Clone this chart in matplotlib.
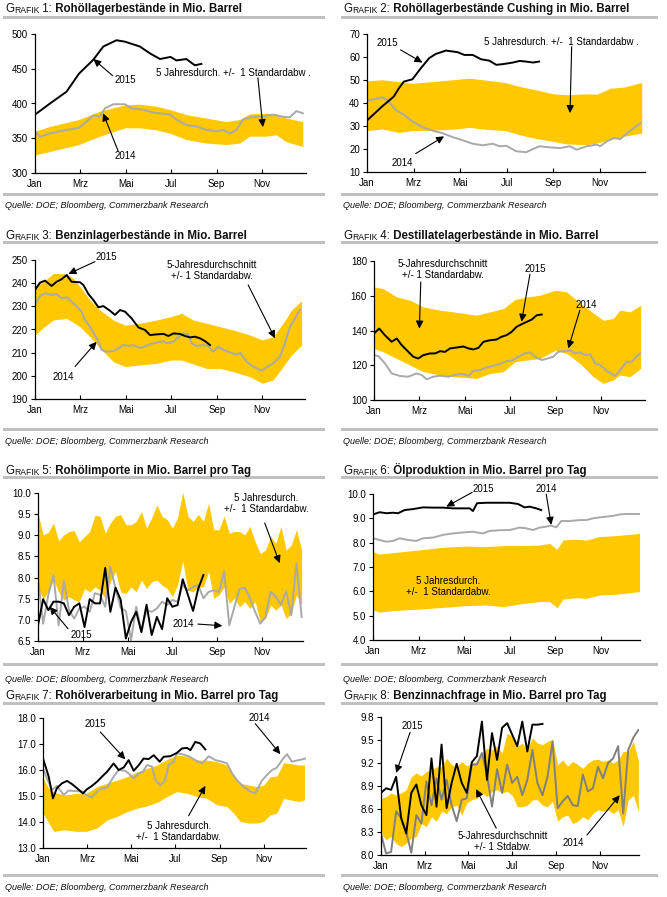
import numpy as np
import matplotlib
matplotlib.use('Agg')
import matplotlib.pyplot as plt
from matplotlib.patches import Rectangle

plt.rcParams['font.family'] = ['Liberation Sans', 'DejaVu Sans']

# ---------------- data ----------------
month_labels = ['Jan', 'Mrz', 'Mai', 'Jul', 'Sep', 'Nov']

# Grafik 1: Rohöllagerbestände
p1_2015_m = [0, 0.66, 1.39, 1.94, 2.57, 3.01, 3.59, 3.96, 4.62, 5.07, 5.51, 5.97, 6.23, 6.67, 7.04, 7.33]
p1_2015_v = [384, 400, 417, 443, 463, 482, 491, 489, 482, 472, 464, 467, 462, 464, 455, 457]
p1_2014_m = [0, 0.22, 0.66, 1.39, 1.94, 2.27, 2.57, 2.86, 3.08, 3.45, 3.96, 4.25, 4.77, 5.21, 5.97, 6.23,
             6.67, 7.11, 7.55, 7.99, 8.28, 8.58, 8.87, 9.16, 9.6, 9.99, 10.48, 10.92, 11.22, 11.51, 11.8]
p1_2014_v = [360, 352, 357, 362, 365, 374, 383, 381, 393, 399, 399, 393, 391, 387, 384, 377,
             369, 367, 362, 360, 362, 357, 362, 377, 381, 381, 384, 381, 380, 389, 386]
p1_band_m = [0, 0.66, 1.94, 2.86, 3.96, 4.62, 5.35, 5.97, 6.67, 7.55, 8.43, 9.02, 9.46, 10.19, 10.63, 11.07, 11.8]
p1_band_up = [360, 367, 377, 389, 398, 399, 396, 391, 384, 379, 374, 377, 385, 386, 385, 379, 374]
p1_band_lo = [326, 331, 341, 353, 365, 365, 362, 357, 348, 343, 341, 343, 353, 353, 355, 345, 338]

# Grafik 2: Cushing
p2_2015_m = [0, 0.65, 1.15, 1.37, 1.58, 1.95, 2.31, 2.67, 2.95, 3.39, 3.89, 4.18, 4.54, 4.9, 5.26, 5.55,
             5.84, 6.27, 6.56, 6.84, 7.13, 7.39]
p2_2015_v = [32.4, 38.5, 42.8, 46.4, 49.3, 50.3, 55.1, 59.5, 61.3, 62.8, 62.1, 60.9, 60.9, 59.0, 58.4, 56.6,
             56.9, 57.6, 58.3, 58.0, 57.6, 58.0]
p2_2014_m = [0, 0.36, 0.65, 0.86, 1.22, 1.58, 1.95, 2.38, 2.81, 3.24, 3.67, 4.11, 4.54, 4.97, 5.4, 5.69,
             5.98, 6.41, 6.84, 7.13, 7.42, 7.85, 8.29, 8.72, 9.0, 9.44, 9.87, 10.01, 10.3, 10.59, 10.88,
             11.17, 11.46, 11.74]
p2_2014_v = [41.1, 41.7, 42.5, 41.4, 37.1, 34.9, 32.0, 29.5, 28.0, 26.9, 25.2, 23.8, 22.3, 21.6, 22.3, 21.2,
             21.4, 19.0, 18.6, 20.0, 21.2, 20.7, 20.4, 21.2, 19.7, 21.2, 21.9, 21.2, 23.3, 24.8, 24.3,
             26.9, 29.1, 31.3]
p2_band_m = [0, 0.65, 1.37, 1.95, 2.81, 3.89, 4.39, 4.97, 5.94, 6.56, 7.13, 8.0, 8.57, 9.44, 9.87, 10.45, 11.02, 11.8]
p2_band_up = [49.6, 50.1, 49.3, 48.6, 49.3, 50.3, 50.8, 50.1, 48.9, 47.2, 46.0, 44.0, 43.6, 44.0, 43.8, 46.4, 46.9, 48.9]
p2_band_lo = [28.0, 28.7, 27.2, 28.0, 28.1, 28.8, 29.4, 28.7, 28.0, 26.2, 24.8, 23.3, 22.2, 21.9, 22.6, 24.0, 25.5, 26.9]

# Grafik 3: Benzinlagerbestände
p3_2015_m = [0, 0.22, 0.44, 0.73, 0.95, 1.17, 1.39, 1.61, 1.98, 2.13, 2.35, 2.57, 2.79, 3.01, 3.3, 3.52,
             3.74, 3.96, 4.25, 4.55, 4.84, 5.06, 5.35, 5.65, 5.87, 6.09, 6.38, 6.6, 6.82, 7.04, 7.26, 7.48, 7.7]
p3_2015_v = [237.1, 240.2, 241.1, 238.8, 240.6, 241.7, 243.5, 240.6, 240.4, 239.2, 235.3, 232.7, 229.6, 230.1,
             228.1, 226.3, 228.4, 227.7, 224.8, 220.9, 219.8, 217.6, 217.9, 218.1, 217.2, 218.3, 218.1, 217.2,
             216.6, 216.9, 216.2, 215.0, 213.3]
p3_2014_m = [0, 0.22, 0.44, 0.73, 0.95, 1.17, 1.39, 1.61, 1.83, 2.05, 2.2, 2.42, 2.64, 2.79, 2.93, 3.15,
             3.45, 3.67, 3.89, 4.11, 4.33, 4.55, 4.77, 5.06, 5.35, 5.65, 5.79, 6.09, 6.3, 6.52, 6.74, 6.89,
             7.11, 7.4, 7.62, 7.84, 8.06, 8.28, 8.58, 8.87, 9.02, 9.31, 9.6, 9.97, 10.19, 10.48, 10.78, 11.0,
             11.22, 11.44, 11.66]
p3_2014_v = [230.6, 234.5, 235.6, 234.9, 235.3, 233.5, 233.9, 232.0, 230.1, 227.7, 224.1, 221.2, 217.6, 214.7,
             211.2, 210.4, 210.7, 211.9, 213.3, 212.9, 213.3, 212.2, 212.3, 213.7, 214.3, 215.0, 214.0, 214.7,
             216.6, 218.3, 218.1, 214.0, 212.9, 213.3, 212.9, 210.4, 212.6, 211.2, 210.1, 209.0, 210.0, 206.1,
             204.0, 202.2, 203.7, 205.4, 208.3, 214.0, 221.2, 224.8, 228.7]
p3_band_m = [0, 0.37, 0.81, 1.39, 1.69, 1.98, 2.42, 2.86, 3.45, 3.96, 4.62, 5.35, 5.97, 6.45, 6.96, 7.55,
             8.14, 8.72, 9.46, 10.0, 10.48, 10.92, 11.29, 11.73]
p3_band_up = [238.5, 240.6, 244.2, 244.0, 242.1, 238.5, 232.7, 228.4, 224.1, 221.9, 222.7, 224.1, 225.5, 227.0,
              224.1, 222.7, 221.2, 219.8, 217.6, 215.5, 216.9, 222.7, 228.4, 232.4]
p3_band_lo = [217.6, 220.9, 224.1, 224.8, 223.0, 221.2, 216.9, 212.0, 206.1, 204.0, 204.7, 205.4, 206.8, 206.8,
              205.1, 203.2, 203.2, 201.8, 199.6, 196.8, 198.2, 204.0, 209.0, 213.3]

# Grafik 4: Destillatelagerbestände
p4_2015_m = [0, 0.23, 0.48, 0.78, 1.0, 1.22, 1.51, 1.73, 1.95, 2.17, 2.47, 2.69, 2.91, 3.13, 3.35, 3.64,
             3.94, 4.16, 4.38, 4.6, 4.82, 5.11, 5.4, 5.62, 5.84, 6.06, 6.28, 6.5, 6.73, 6.95, 7.17, 7.39]
p4_2015_v = [138.3, 141.1, 137.3, 133.5, 135.4, 131.6, 127.8, 124.9, 123.9, 125.8, 126.8, 126.8, 128.1, 127.7,
             129.7, 130.2, 130.8, 129.7, 129.1, 130.0, 133.5, 134.4, 134.8, 136.4, 137.3, 139.2, 142.1, 143.6,
             145.0, 146.3, 148.8, 149.2]
p4_2014_m = [0, 0.19, 0.48, 0.78, 1.15, 1.51, 1.88, 2.1, 2.32, 2.61, 2.91, 3.27, 3.57, 3.79, 4.01, 4.16,
             4.38, 4.67, 4.96, 5.26, 5.55, 5.84, 6.06, 6.36, 6.65, 6.87, 7.09, 7.39, 7.68, 7.9, 8.12, 8.41,
             8.63, 8.85, 9.07, 9.3, 9.52, 9.74, 9.96, 10.25, 10.62, 10.84, 11.13, 11.35, 11.72]
p4_2014_v = [125.8, 125.3, 121.1, 115.3, 113.8, 113.4, 115.3, 114.4, 111.9, 113.4, 114.0, 113.4, 114.4, 115.0,
             114.7, 113.8, 116.8, 117.2, 118.8, 119.7, 120.7, 122.4, 122.6, 124.9, 126.8, 127.4, 124.9, 123.0,
             124.0, 124.9, 127.8, 128.1, 128.7, 126.8, 127.4, 125.8, 126.4, 121.1, 120.1, 116.8, 113.8, 117.2,
             122.0, 122.0, 126.8]
p4_band_m = [0, 0.41, 1.0, 1.59, 2.17, 2.91, 3.49, 3.98, 4.52, 5.11, 5.7, 6.21, 6.73, 7.31, 8.0, 8.49,
             9.07, 9.66, 10.1, 10.54, 10.84, 11.28, 11.75]
p4_band_up = [165.1, 164.1, 159.3, 157.4, 153.6, 151.7, 150.7, 149.8, 148.8, 150.7, 152.6, 157.8, 159.3, 160.3,
              163.2, 162.2, 155.9, 150.1, 145.9, 146.9, 151.7, 150.7, 154.5]
p4_band_lo = [129.7, 127.7, 123.9, 120.1, 116.3, 114.4, 113.4, 113.0, 112.4, 115.3, 116.3, 122.0, 123.0, 123.9,
              128.7, 126.8, 121.1, 113.4, 109.6, 111.5, 114.4, 113.4, 118.2]

# Grafik 5: Rohölimporte (weekly)
p5_2015 = [6.87, 7.49, 7.23, 7.43, 7.43, 7.39, 7.11, 7.31, 7.39, 6.83, 7.49, 7.39, 7.39, 8.23, 7.19, 7.76,
           7.47, 6.56, 6.95, 7.19, 6.71, 7.36, 6.64, 7.07, 6.78, 7.51, 7.31, 7.35, 7.96, 7.59, 7.21, 7.74, 8.06]
p5_2014 = [7.98, 6.91, 7.59, 8.06, 6.87, 7.92, 7.23, 7.03, 7.27, 7.31, 7.19, 7.63, 7.59, 7.31, 8.26, 7.74,
           7.28, 7.21, 6.52, 7.31, 6.73, 7.23, 7.19, 7.27, 7.43, 7.35, 7.47, 7.43, 7.82, 7.70, 7.78, 7.82,
           7.51, 7.66, 7.70, 7.66, 8.14, 6.87, 7.31, 7.73, 7.76, 7.51, 7.19, 6.91, 7.07, 7.66, 7.55, 7.35,
           7.68, 7.11, 8.34, 7.07]
p5_band_up = [9.52, 9.01, 9.07, 9.29, 8.87, 9.01, 9.09, 9.11, 8.84, 8.97, 9.09, 9.47, 9.45, 9.05, 9.29, 9.45,
              9.49, 9.25, 9.25, 9.33, 9.56, 9.17, 9.41, 9.72, 9.45, 9.37, 9.17, 9.41, 10.02, 9.45, 9.33, 9.49,
              9.33, 9.76, 9.13, 9.13, 9.45, 9.05, 9.09, 9.09, 9.01, 9.21, 8.85, 8.57, 8.65, 8.97, 8.81, 9.21,
              8.65, 8.77, 9.13, 8.65]
p5_band_lo = [7.74, 7.51, 7.66, 7.94, 7.66, 7.47, 7.55, 7.47, 7.43, 7.74, 7.66, 7.78, 7.70, 7.51, 7.90, 8.14,
              7.66, 7.62, 7.78, 7.66, 7.94, 7.74, 7.90, 7.94, 7.82, 7.74, 7.55, 7.82, 8.39, 7.70, 7.66, 7.78,
              7.78, 8.14, 7.51, 7.59, 7.78, 7.39, 7.51, 7.31, 7.43, 7.27, 7.43, 6.95, 7.03, 7.35, 7.23, 7.35,
              7.03, 7.15, 7.59, 7.35]

# Grafik 6: Ölproduktion
p6_2015_m = [0, 0.29, 0.59, 0.88, 1.1, 1.39, 1.76, 2.2, 2.64, 3.07, 3.51, 3.95, 4.25, 4.39, 4.57, 4.98,
             5.56, 6.0, 6.37, 6.66, 6.88, 7.17, 7.39]
p6_2015_v = [9.16, 9.25, 9.21, 9.23, 9.21, 9.34, 9.38, 9.45, 9.44, 9.44, 9.41, 9.41, 9.41, 9.30, 9.62, 9.64,
             9.64, 9.64, 9.59, 9.45, 9.48, 9.41, 9.34]
p6_2014_m = [0, 0.29, 0.59, 0.88, 1.17, 1.54, 1.9, 2.2, 2.64, 3.07, 3.51, 3.95, 4.39, 4.83, 5.12, 5.56,
             6.0, 6.44, 6.73, 7.03, 7.32, 7.61, 7.83, 8.05, 8.27, 8.64, 9.08, 9.37, 9.66, 9.96, 10.25, 10.54,
             10.83, 11.13, 11.71]
p6_2014_v = [8.18, 8.11, 8.04, 8.07, 8.18, 8.11, 8.07, 8.18, 8.21, 8.32, 8.38, 8.42, 8.45, 8.38, 8.48, 8.51,
             8.52, 8.62, 8.59, 8.52, 8.62, 8.66, 8.70, 8.63, 8.89, 8.89, 8.93, 8.93, 9.0, 9.04, 9.07, 9.10,
             9.16, 9.18, 9.18]
p6_band_m = [0, 0.29, 0.88, 2.02, 3.07, 4.03, 4.98, 5.71, 6.44, 7.32, 7.76, 8.08, 8.35, 8.93, 9.37, 9.96, 10.69, 11.71]
p6_band_up = [7.63, 7.53, 7.59, 7.70, 7.81, 7.86, 7.84, 7.88, 7.88, 7.90, 7.97, 7.73, 8.11, 8.14, 8.11, 8.25, 8.29, 8.38]
p6_band_lo = [5.23, 5.14, 5.21, 5.27, 5.34, 5.41, 5.44, 5.37, 5.48, 5.58, 5.58, 5.33, 5.68, 5.74, 5.71, 5.85, 5.88, 5.99]

# Grafik 7: Rohölverarbeitung
p7_2015_m = [0, 0.11, 0.26, 0.45, 0.63, 0.86, 1.09, 1.31, 1.54, 1.81, 1.99, 2.22, 2.45, 2.67, 2.9, 3.2,
             3.43, 3.66, 3.88, 4.11, 4.34, 4.56, 4.79, 5.02, 5.29, 5.47, 5.77, 6.07, 6.3, 6.53, 6.68, 6.9,
             7.13, 7.36]
p7_2015_v = [16.44, 16.15, 15.74, 14.91, 15.30, 15.49, 15.58, 15.46, 15.30, 15.10, 15.26, 15.39, 15.55, 15.74,
             15.93, 16.25, 16.0, 16.10, 16.38, 15.97, 16.19, 16.44, 16.42, 16.57, 16.32, 16.51, 16.53, 16.66,
             16.83, 16.85, 16.76, 17.08, 17.02, 16.79]
p7_2014_m = [0, 0.18, 0.41, 0.63, 0.94, 1.16, 1.47, 1.77, 1.96, 2.22, 2.45, 2.67, 2.9, 3.2, 3.43, 3.73,
             3.88, 4.11, 4.34, 4.53, 4.71, 4.94, 5.09, 5.32, 5.54, 5.69, 5.92, 6.07, 6.3, 6.6, 6.9, 7.21,
             7.51, 7.81, 8.11, 8.34, 8.57, 8.79, 9.09, 9.4, 9.62, 9.92, 10.15, 10.38, 10.6, 10.83, 11.06,
             11.28, 11.59, 11.9]
p7_2014_v = [16.06, 15.68, 15.23, 15.39, 15.04, 15.21, 15.19, 15.17, 15.04, 14.95, 15.17, 15.30, 15.32, 15.74,
             16.0, 15.97, 15.87, 15.68, 15.87, 15.93, 16.19, 16.13, 15.61, 15.42, 15.61, 16.19, 16.32, 16.64,
             16.61, 16.53, 16.38, 16.25, 16.53, 16.38, 16.32, 16.25, 15.87, 15.61, 15.36, 15.17, 15.10, 15.59,
             15.81, 16.0, 16.09, 16.38, 16.61, 16.32, 16.38, 16.44]
p7_band_m = [0, 0.26, 0.48, 0.94, 1.54, 1.96, 2.45, 2.9, 3.35, 3.81, 4.26, 4.71, 5.17, 5.62, 6.07, 6.53,
             6.98, 7.43, 7.89, 8.34, 8.64, 8.94, 9.32, 9.7, 10.0, 10.3, 10.6, 10.91, 11.21, 11.6, 11.85]
p7_band_up = [15.68, 15.30, 15.15, 15.04, 15.10, 15.10, 15.36, 15.49, 15.61, 15.74, 15.93, 16.06, 16.19, 16.41,
              16.57, 16.53, 16.38, 16.38, 16.32, 16.19, 15.81, 15.49, 15.42, 15.36, 15.42, 15.74, 15.77, 16.28,
              16.25, 16.19, 16.19]
p7_band_lo = [14.34, 13.96, 13.64, 13.70, 13.64, 13.64, 13.77, 14.08, 14.21, 14.40, 14.53, 14.62, 14.75, 14.98,
              15.17, 15.10, 14.98, 14.91, 14.66, 14.59, 14.34, 14.02, 13.96, 13.96, 14.02, 14.28, 14.34, 14.91,
              14.85, 14.79, 14.85]

# Grafik 8: Benzinnachfrage (weekly)
p8_2015 = [8.81, 8.87, 8.85, 9.02, 8.48, 8.28, 8.81, 8.92, 8.65, 8.52, 9.26, 8.63, 9.44, 8.61, 8.94, 9.19,
           8.94, 8.81, 9.21, 9.29, 9.74, 8.98, 9.59, 9.24, 9.66, 9.72, 9.57, 9.42, 9.74, 9.35, 9.70, 9.70, 9.71]
p8_2014 = [8.28, 8.02, 8.04, 8.57, 8.48, 8.30, 8.03, 8.52, 8.41, 8.96, 8.65, 9.0, 8.72, 8.98, 8.65, 8.44,
           8.72, 8.74, 9.18, 9.18, 9.33, 9.05, 8.63, 9.12, 8.81, 9.18, 8.94, 9.02, 8.78, 8.98, 9.37, 8.94,
           8.78, 9.02, 9.48, 8.61, 8.70, 8.77, 8.65, 8.64, 9.05, 8.83, 8.87, 9.15, 9.0, 9.20, 9.26, 9.42,
           8.54, 9.37, 9.53, 9.63]
p8_band_up = [8.74, 8.76, 8.81, 8.78, 8.81, 8.85, 9.02, 9.07, 9.03, 9.09, 9.11, 9.15, 9.15, 9.26, 9.18, 9.15,
              9.22, 9.16, 9.20, 9.22, 9.33, 9.39, 9.37, 9.42, 9.33, 9.59, 9.55, 9.42, 9.46, 9.37, 9.53, 9.46,
              9.44, 9.48, 9.51, 9.18, 9.24, 9.16, 9.22, 9.18, 9.13, 9.20, 9.24, 9.25, 9.22, 9.24, 9.20, 9.24,
              9.35, 9.35, 9.48, 9.24]
p8_band_lo = [8.28, 8.20, 8.24, 8.15, 8.11, 8.15, 8.22, 8.24, 8.41, 8.37, 8.50, 8.44, 8.57, 8.54, 8.63, 8.65,
              8.52, 8.68, 8.72, 8.74, 8.81, 8.76, 8.83, 8.85, 8.81, 8.83, 8.78, 8.63, 8.63, 8.65, 8.72, 8.72,
              8.65, 8.63, 8.70, 8.44, 8.50, 8.52, 8.41, 8.44, 8.50, 8.46, 8.54, 8.59, 8.57, 8.59, 8.54, 8.59,
              8.37, 8.72, 8.78, 8.57]

# ---------------- style ----------------
W, H = 667, 897
BAND = '#FFC800'
GRAY = '#a9a9a9'
DARKGRAY = '#808080'
BLACK = '#000000'
SEPCOL = '#c0c0c0'
FS = 7

fig = plt.figure(figsize=(W / 100, H / 100), dpi=100)
bg = fig.add_axes([0, 0, 1, 1], zorder=-5)
bg.set_xlim(0, W)
bg.set_ylim(H, 0)
bg.axis('off')


def weekly(vals):
    return np.arange(len(vals)) * 12.0 / 52.0


def add_ax(l, r, t, b, xmax, ylim, yticks, fmt):
    ax = fig.add_axes([l / W, 1 - b / H, (r - l) / W, (b - t) / H])
    ax.set_xlim(0, xmax)
    ax.set_ylim(*ylim)
    for s in ['top', 'right']:
        ax.spines[s].set_visible(False)
    for s in ['left', 'bottom']:
        ax.spines[s].set_linewidth(0.9)
    ax.set_xticks([0, 2, 4, 6, 8, 10])
    ax.set_xticklabels(month_labels)
    ax.set_yticks(yticks)
    ax.set_yticklabels([fmt.format(v) for v in yticks])
    ax.tick_params(axis='y', direction='out', length=3, width=0.8, labelsize=FS, pad=2)
    ax.tick_params(axis='x', direction='in', length=3, width=0.8, labelsize=FS, pad=4)
    ax.patch.set_alpha(0)
    return ax


def title(x, y, num, text):
    t = bg.text(x, y, 'G', fontsize=8.3, va='baseline', ha='left', color='#111111')
    t = bg.annotate('RAFIK', xy=(1, 0), xycoords=t, fontsize=6.2, va='bottom', ha='left', color='#111111')
    t = bg.annotate(' %d:' % num, xy=(1, 0), xycoords=t, fontsize=8.3, va='bottom', ha='left', color='#111111')
    bg.annotate(' ' + text, xy=(1, 0), xycoords=t, fontsize=8.3, fontweight='bold', va='bottom', ha='left',
                color='#111111')


def sep(x0, x1, y):
    bg.add_patch(Rectangle((x0, y - 1.5), x1 - x0, 3, color=SEPCOL, lw=0))


def source(x, y):
    bg.text(x, y, 'Quelle: DOE; Bloomberg, Commerzbank Research', fontsize=6.5, fontstyle='italic',
            va='center', ha='left', color='#111111')


def arrow(ax, tail, tip):
    ax.annotate('', xy=tip, xytext=tail, annotation_clip=False,
                arrowprops=dict(arrowstyle='-|>,head_length=0.45,head_width=0.22', color='black', lw=0.8,
                                mutation_scale=10, shrinkA=0, shrinkB=0))


def label(ax, x, y, s, ha='center'):
    ax.text(x, y, s, fontsize=FS, ha=ha, va='center', multialignment='center', clip_on=False,
            linespacing=1.15)


LW = 1.4

# ---------- Panel 1 ----------
title(5, 12.3, 1, 'Rohöllagerbestände in Mio. Barrel')
sep(3, 325, 18)
sep(3, 325, 194.5)
source(5, 206)
ax = add_ax(35, 306, 34, 173, 11.94, (300, 500), [300, 350, 400, 450, 500], '{:.0f}')
ax.fill_between(p1_band_m, p1_band_lo, p1_band_up, color=BAND, lw=0)
ax.plot(p1_2014_m, p1_2014_v, color=GRAY, lw=LW)
ax.plot(p1_2015_m, p1_2015_v, color=BLACK, lw=LW)
label(ax, 4.0, 434, '2015')
arrow(ax, (3.42, 440), (2.57, 464))
label(ax, 5.35, 444.5, '5 Jahresdurch. +/-  1 Standardabw .', ha='left')
arrow(ax, (9.82, 437), (10.04, 366))
label(ax, 3.96, 324, '2014')
arrow(ax, (3.67, 331), (3.0, 386))

# ---------- Panel 2 ----------
title(343, 12.3, 2, 'Rohöllagerbestände Cushing in Mio. Barrel')
sep(341, 658, 18)
sep(341, 658, 194.5)
source(343, 206)
ax = add_ax(367, 645, 34, 172, 11.94, (10, 70), [10, 20, 30, 40, 50, 60, 70], '{:.0f}')
ax.fill_between(p2_band_m, p2_band_lo, p2_band_up, color=BAND, lw=0)
ax.plot(p2_2014_m, p2_2014_v, color=GRAY, lw=LW)
ax.plot(p2_2015_m, p2_2015_v, color=BLACK, lw=LW)
label(ax, 0.86, 66.0, '2015')
arrow(ax, (1.44, 63.1), (2.38, 57.6))
label(ax, 5.04, 66.7, '5 Jahresdurch. +/-  1 Standardabw .', ha='left')
arrow(ax, (8.79, 64.5), (8.72, 35.6))
label(ax, 1.51, 13.9, '2014')
arrow(ax, (2.09, 18.0), (3.31, 25.5))

# ---------- Panel 3 ----------
title(5, 239, 3, 'Benzinlagerbestände in Mio. Barrel')
sep(3, 325, 242.5)
sep(3, 325, 430)
source(5, 442)
ax = add_ax(35, 305, 260, 399, 11.88, (190, 250), [190, 200, 210, 220, 230, 240, 250], '{:.0f}')
ax.fill_between(p3_band_m, p3_band_lo, p3_band_up, color=BAND, lw=0)
ax.plot(p3_2014_m, p3_2014_v, color=GRAY, lw=LW)
ax.plot(p3_2015_m, p3_2015_v, color=BLACK, lw=LW)
label(ax, 3.15, 251.4, '2015')
arrow(ax, (2.64, 249.3), (1.47, 244.0))
label(ax, 7.77, 245.4, '5-Jahresdurchschnitt\n+/- 1 Standardabw.')
arrow(ax, (9.38, 239.2), (10.56, 216.2))
label(ax, 1.25, 199.6, '2014')
arrow(ax, (1.76, 204.0), (2.71, 214.7))

# ---------- Panel 4 ----------
title(343, 239, 4, 'Destillatelagerbestände in Mio. Barrel')
sep(341, 658, 242.5)
sep(341, 658, 430)
source(343, 442)
ax = add_ax(374, 645, 261, 400, 11.94, (100, 180), [100, 120, 140, 160, 180], '{:.0f}')
ax.fill_between(p4_band_m, p4_band_lo, p4_band_up, color=BAND, lw=0)
ax.plot(p4_2014_m, p4_2014_v, color=GRAY, lw=LW)
ax.plot(p4_2015_m, p4_2015_v, color=BLACK, lw=LW)
label(ax, 3.05, 175.0, '5-Jahresdurchschnitt\n+/- 1 Standardabw.')
arrow(ax, (2.06, 167.9), (2.0, 141.1))
label(ax, 7.09, 175.6, '2015')
arrow(ax, (6.87, 172.3), (6.5, 145.0))
label(ax, 9.37, 154.9, '2014')
arrow(ax, (9.07, 151.7), (8.56, 129.7))

# ---------- Panel 5 ----------
title(5, 474, 5, 'Rohölimporte in Mio. Barrel pro Tag')
sep(3, 325, 478)
sep(3, 325, 664.5)
source(5, 680)
ax = add_ax(38, 303, 493, 641, 11.83, (6.5, 10.0), [6.5, 7.0, 7.5, 8.0, 8.5, 9.0, 9.5, 10.0], '{:.1f}')
ax.fill_between(weekly(p5_band_up), p5_band_lo, p5_band_up, color=BAND, lw=0)
ax.plot(weekly(p5_2014), p5_2014, color=GRAY, lw=LW)
ax.plot(weekly(p5_2015), p5_2015, color=BLACK, lw=LW)
label(ax, 10.19, 9.75, '5 Jahresdurch.\n+/-  1 Standardabw.')
arrow(ax, (10.12, 9.29), (10.79, 8.34))
label(ax, 1.93, 6.65, '2015')
arrow(ax, (1.34, 6.79), (0.52, 7.31))
label(ax, 6.47, 6.91, '2014')
arrow(ax, (7.14, 6.9), (8.23, 6.86))

# ---------- Panel 6 ----------
title(343, 474, 6, 'Ölproduktion in Mio. Barrel pro Tag')
sep(341, 658, 478)
sep(341, 658, 664.5)
source(343, 680)
ax = add_ax(373, 640, 494, 640, 11.73, (4.0, 10.0), [4.0, 5.0, 6.0, 7.0, 8.0, 9.0, 10.0], '{:.1f}')
ax.fill_between(p6_band_m, p6_band_lo, p6_band_up, color=BAND, lw=0)
ax.plot(p6_2014_m, p6_2014_v, color=GRAY, lw=LW)
ax.plot(p6_2015_m, p6_2015_v, color=BLACK, lw=LW)
label(ax, 4.83, 10.19, '2015')
arrow(ax, (4.36, 10.07), (3.22, 9.48))
label(ax, 7.61, 10.19, '2014')
arrow(ax, (7.61, 9.99), (7.83, 8.73))
label(ax, 3.29, 6.19, '5 Jahresdurch.\n+/-  1 Standardabw.')

# ---------- Panel 7 ----------
title(5, 699, 7, 'Rohölverarbeitung in Mio. Barrel pro Tag')
sep(3, 325, 703.5)
sep(3, 325, 876)
source(5, 888)
ax = add_ax(43, 306, 718, 848, 11.92, (13.0, 18.0), [13.0, 14.0, 15.0, 16.0, 17.0, 18.0], '{:.1f}')
ax.fill_between(p7_band_m, p7_band_lo, p7_band_up, color=BAND, lw=0)
ax.plot(p7_2014_m, p7_2014_v, color=GRAY, lw=LW)
ax.plot(p7_2015_m, p7_2015_v, color=BLACK, lw=LW)
label(ax, 2.37, 17.76, '2015')
arrow(ax, (2.6, 17.46), (3.73, 16.41))
label(ax, 9.82, 18.01, '2014')
arrow(ax, (9.62, 17.78), (10.76, 16.61))
label(ax, 6.15, 13.64, '5 Jahresdurch.\n+/-  1 Standardabw.')
arrow(ax, (6.6, 14.24), (7.36, 15.39))

# ---------- Panel 8 ----------
title(343, 699, 8, 'Benzinnachfrage in Mio. Barrel pro Tag')
sep(341, 658, 703.5)
sep(341, 658, 876)
source(343, 888)
ax = add_ax(381, 639, 717, 855, 11.8, (8.0, 9.8), [8.0, 8.3, 8.6, 8.9, 9.2, 9.5, 9.8], '{:.1f}')
ax.fill_between(weekly(p8_band_up), p8_band_lo, p8_band_up, color=BAND, lw=0)
ax.plot(weekly(p8_2014), p8_2014, color=DARKGRAY, lw=LW)
ax.plot(weekly(p8_2015), p8_2015, color=BLACK, lw=LW)
label(ax, 1.45, 9.68, '2015')
arrow(ax, (1.33, 9.60), (0.69, 9.07))
label(ax, 5.57, 8.18, '5-Jahresdurchschnitt\n+/- 1 Stdabw.')
arrow(ax, (5.27, 8.35), (4.35, 8.86))
label(ax, 8.78, 8.16, '2014')
arrow(ax, (9.42, 8.26), (10.92, 8.78))

fig.savefig('out.png', dpi=100)
